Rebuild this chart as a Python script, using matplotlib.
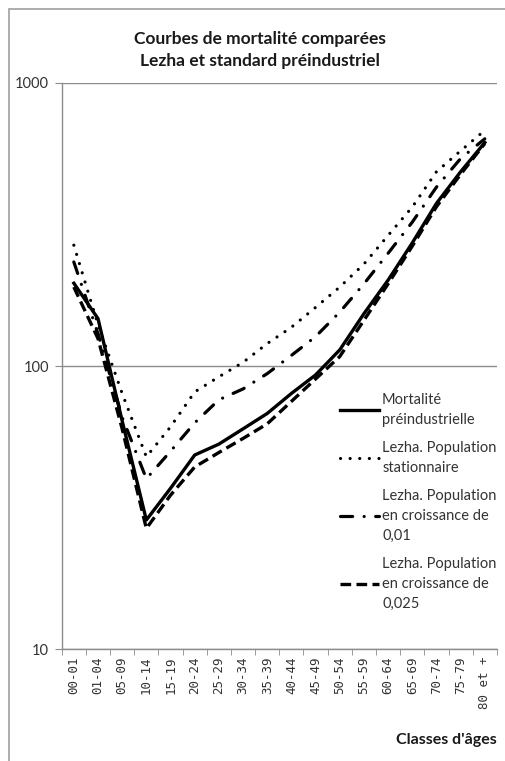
import matplotlib.pyplot as plt
from matplotlib.patches import Rectangle
from matplotlib.ticker import FixedLocator, NullLocator

plt.rcParams['font.family'] = ['Lato', 'DejaVu Sans']

classes = ['00-01', '01-04', '05-09', '10-14', '15-19', '20-24', '25-29', '30-34', '35-39',
           '40-44', '45-49', '50-54', '55-59', '60-64', '65-69', '70-74', '75-79', '80 et +']

# taux de mortalite (pour mille)
preindus = [196, 147, 64, 28.6, 37, 48.5, 53, 60, 68, 80, 93, 114, 153, 201, 272, 375, 485, 615]
stationnaire = [267, 140, 80, 47.8, 61, 81, 91.6, 103, 120, 137, 161, 190, 229, 289, 364, 485, 575, 679]
croiss_001 = [233, 130, 66, 40, 50, 63, 76, 83, 94, 109, 127, 155, 195, 250, 322, 428, 540, 634]
croiss_0025 = [190, 125, 60, 26.7, 35, 44, 49.5, 55.5, 62.5, 75, 90, 108, 145, 195, 265, 365, 475, 610]

labels = ["Mortalité\npréindustrielle",
          "Lezha. Population\nstationnaire",
          "Lezha. Population\nen croissance de\n0,01",
          "Lezha. Population\nen croissance de\n0,025"]

fig = plt.figure(figsize=(5.06, 7.61), dpi=100)
# cadre gris du graphique (coupe a droite et en bas)
fig.patches.append(Rectangle((9 / 506, -0.1), 1.1, 1 - 9 / 761 + 0.1, transform=fig.transFigure,
                             fill=False, edgecolor='#a0a0a0', lw=1.2))

ax = fig.add_axes([0.122, 0.1468, 0.860, 0.7445])
x = list(range(len(classes)))

ax.plot(x, preindus, color='black', lw=2.4, solid_joinstyle='round', label=labels[0])
ax.plot(x, stationnaire, color='black', lw=2.3, linestyle=(0, (0.01, 3.0)),
        dash_capstyle='round', label=labels[1])
ax.plot(x, croiss_001, color='black', lw=2.3, linestyle=(0, (3.8, 3.6, 0.01, 3.6)),
        dash_capstyle='round', label=labels[2])
ax.plot(x, croiss_0025, color='black', lw=2.4, linestyle=(0, (3.2, 1.6)), label=labels[3])

ax.set_yscale('log')
ax.set_ylim(10, 1000)
ax.set_xlim(-0.5, len(classes) - 0.5)
ax.yaxis.set_major_locator(FixedLocator([10, 100, 1000]))
ax.yaxis.set_minor_locator(NullLocator())
ax.set_yticklabels(['10', '100', '1000'], fontsize=10.5, color='#333333')
ax.grid(axis='y', color='#8c8c8c', lw=1.0)
ax.set_axisbelow(True)

ax.set_xticks(x)
ax.set_xticklabels(classes, rotation=90, fontsize=9, color='#333333',
                   family=['DejaVu Sans Mono'])
ax.set_xticks([i - 0.5 for i in range(len(classes) + 1)], minor=True)
ax.tick_params(axis='x', which='major', length=0, pad=5)
ax.tick_params(axis='x', which='minor', length=4, color='#8c8c8c')
ax.tick_params(axis='y', length=5, color='#8c8c8c', pad=4)

for s in ['top', 'right']:
    ax.spines[s].set_visible(False)
for s in ['left', 'bottom']:
    ax.spines[s].set_color('#8c8c8c')
    ax.spines[s].set_linewidth(1.0)

leg = ax.legend(loc='upper left', bbox_to_anchor=(0.639, 0.4527), frameon=False,
                fontsize=10.5, handlelength=2.7, handletextpad=0.2, labelspacing=0.95,
                borderaxespad=0, borderpad=0)
for t in leg.get_texts():
    t.set_color('#333333')
    t.set_linespacing(1.55)

fig.text(0.514, 0.934, "Courbes de mortalité comparées\nLezha et standard préindustriel",
         ha='center', va='center', fontsize=12.5, fontweight='bold', linespacing=1.45,
         color='#1a1a1a')
fig.text(0.982, 0.027, "Classes d'âges", ha='right', va='center', fontsize=11.5,
         fontweight='bold', color='#1a1a1a')

fig.savefig('out.png', dpi=100)
